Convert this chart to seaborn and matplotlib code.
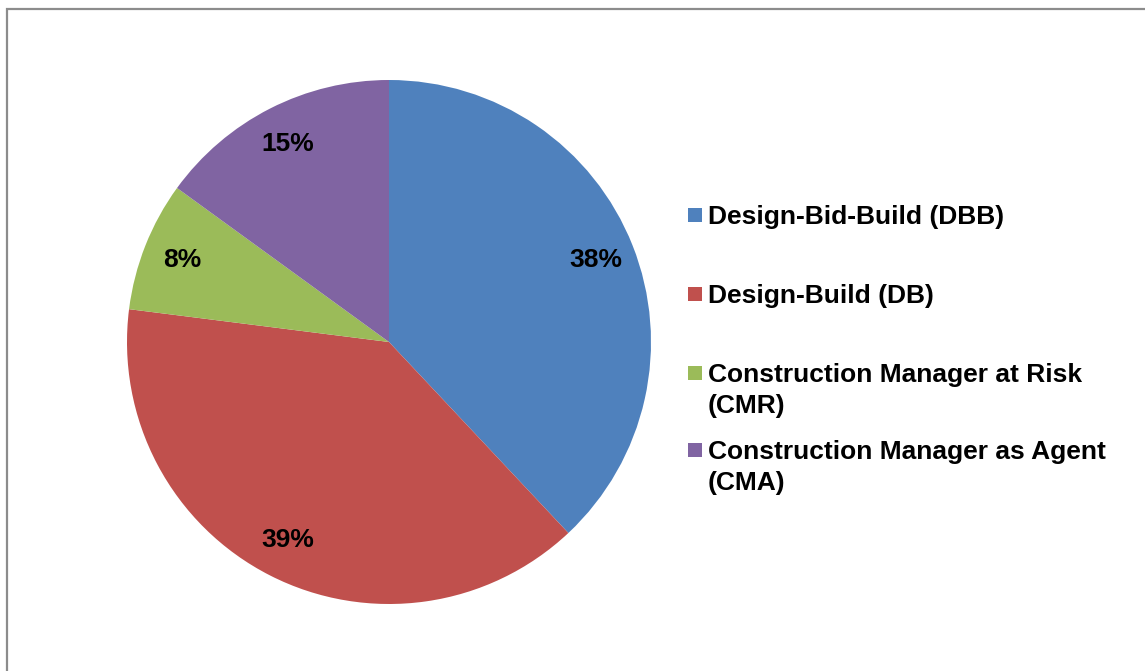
import matplotlib
matplotlib.use("Agg")
import matplotlib.pyplot as plt
from matplotlib.patches import Rectangle
import seaborn as sns

# Project delivery methods and their shares (%)
methods = [
    "Design-Bid-Build (DBB)",
    "Design-Build (DB)",
    "Construction Manager at Risk\n(CMR)",
    "Construction Manager as Agent\n(CMA)",
]
shares = [38, 39, 8, 15]
colors = ["#4F81BD", "#C0504D", "#9BBB59", "#8064A2"]

sns.set_theme(style="white")
plt.rcParams["font.family"] = ["Liberation Sans", "DejaVu Sans"]

W, H = 1145, 671
FS = 19
fig = plt.figure(figsize=(W / 100, H / 100), dpi=100)
fig.patch.set_facecolor("white")

# Thin grey frame around the chart area
fig.add_artist(Rectangle((6.5 / W, -0.05), 1.2, 1 - 9.5 / H + 0.05,
                         transform=fig.transFigure, fill=False,
                         edgecolor="#8c8c8c", linewidth=1.6))

# Pie: centre (389, 342) px, radius 262 px
cx, cy, r = 389, 342, 262
ax = fig.add_axes([(cx - r) / W, (H - cy - r) / H, 2 * r / W, 2 * r / H])
wedges, texts, autotexts = ax.pie(
    shares, colors=colors, startangle=90, counterclock=False,
    autopct=lambda p: f"{p:.0f}%", pctdistance=0.85, radius=1.0,
    wedgeprops=dict(linewidth=0),
    textprops=dict(fontsize=FS, fontweight="bold", color="black"),
)
ax.set_xlim(-1, 1)
ax.set_ylim(-1, 1)
ax.set_aspect("equal")
ax.axis("off")

# Legend drawn as swatches and text on the right
baselines = [224, 303, 382, 459]
for label, col, base in zip(methods, colors, baselines):
    fig.add_artist(Rectangle((688 / W, (H - base + 2) / H),
                             14 / W, 14 / H, transform=fig.transFigure,
                             facecolor=col, edgecolor="none"))
    lines = label.split("\n")
    for k, line in enumerate(lines):
        fig.text(708 / W, (H - base - 31 * k) / H, line,
                 fontsize=FS, fontweight="bold", color="black",
                 ha="left", va="baseline")

fig.savefig("out.png", dpi=100, facecolor="white")
